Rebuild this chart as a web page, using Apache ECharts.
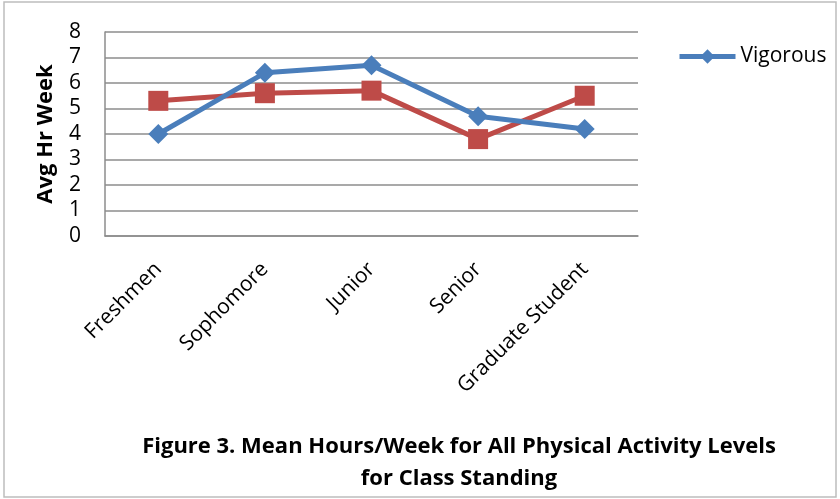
<!DOCTYPE html>
<html>
<head>
<meta charset="utf-8">
<script src="https://cdn.jsdelivr.net/npm/echarts@6/dist/echarts.min.js"></script>
<style>
  html, body { margin: 0; padding: 0; background: #fff; }
  #chart { width: 840px; height: 499px; }
</style>
</head>
<body>
<div id="chart"></div>
<script>
const categories = ['Freshmen', 'Sophomore', 'Junior', 'Senior', 'Graduate Student']
const vigorous = [4.0, 6.4, 6.7, 4.7, 4.2]
const moderate = [5.3, 5.6, 5.7, 3.8, 5.5]
const yTicks = [0, 8, 1] // min, max, interval

const font = '"Open Sans", "Noto Sans", sans-serif'
const gridColor = '#8c8c8c'

const chart = echarts.init(document.getElementById('chart'))

const opt = {
  animation: false,
  backgroundColor: '#fff',
  textStyle: { fontFamily: font },
  graphic: [{
    type: 'rect',
    shape: { x: 4, y: 2, width: 832, height: 495 },
    style: { fill: 'none', stroke: '#bdbdbd', lineWidth: 1.5 },
    silent: true
  }],
  title: {
    text: 'Figure 3. Mean Hours/Week for All Physical Activity Levels\nfor Class Standing',
    left: 454,
    top: 426,
    textAlign: 'center',
    textStyle: {
      fontFamily: font,
      fontSize: 22,
      fontWeight: 'bold',
      lineHeight: 32,
      color: '#000',
      align: 'center'
    }
  },
  legend: {
    data: [{ name: 'Vigorous', lineStyle: { width: 5 } }],
    left: 672,
    top: 41,
    itemWidth: 56,
    itemHeight: 18,
    itemGap: 4,
    textStyle: { fontSize: 21, color: '#000', fontFamily: font }
  },
  grid: {
    left: 105,
    right: 202,
    top: 32,
    bottom: 263,
    containLabel: false
  },
  xAxis: {
    type: 'category',
    data: categories,
    boundaryGap: true,
    axisLine: { show: true, lineStyle: { color: gridColor, width: 1.5 } },
    axisTick: { show: false },
    axisLabel: {
      interval: 0,
      rotate: 45,
      margin: 30,
      fontSize: 21,
      color: '#000',
      fontFamily: font
    },
    splitLine: { show: false }
  },
  yAxis: {
    type: 'value',
    min: yTicks[0],
    max: yTicks[1],
    interval: yTicks[2],
    name: 'Avg Hr Week',
    nameLocation: 'middle',
    nameRotate: 90,
    nameGap: 48,
    nameTextStyle: { fontSize: 22, fontWeight: 'bold', color: '#000', fontFamily: font },
    axisLine: { show: true, lineStyle: { color: gridColor, width: 1.5 } },
    axisTick: { show: false },
    axisLabel: { fontSize: 21, color: '#000', margin: 24, fontFamily: font },
    splitLine: { show: true, lineStyle: { color: gridColor, width: 1.5 } }
  },
  series: [{
    name: 'Vigorous',
    type: 'line',
    data: vigorous,
    symbol: 'diamond',
    symbolSize: 20,
    lineStyle: { color: '#4a7ebb', width: 5 },
    itemStyle: { color: '#4a7ebb' },
    z: 3
  }, {
    name: 'Moderate',
    type: 'line',
    data: moderate,
    symbol: 'rect',
    symbolSize: 20,
    lineStyle: { color: '#be4b48', width: 5 },
    itemStyle: { color: '#be4b48' },
    z: 2
  }]
}

chart.setOption(opt)
</script>
</body>
</html>
